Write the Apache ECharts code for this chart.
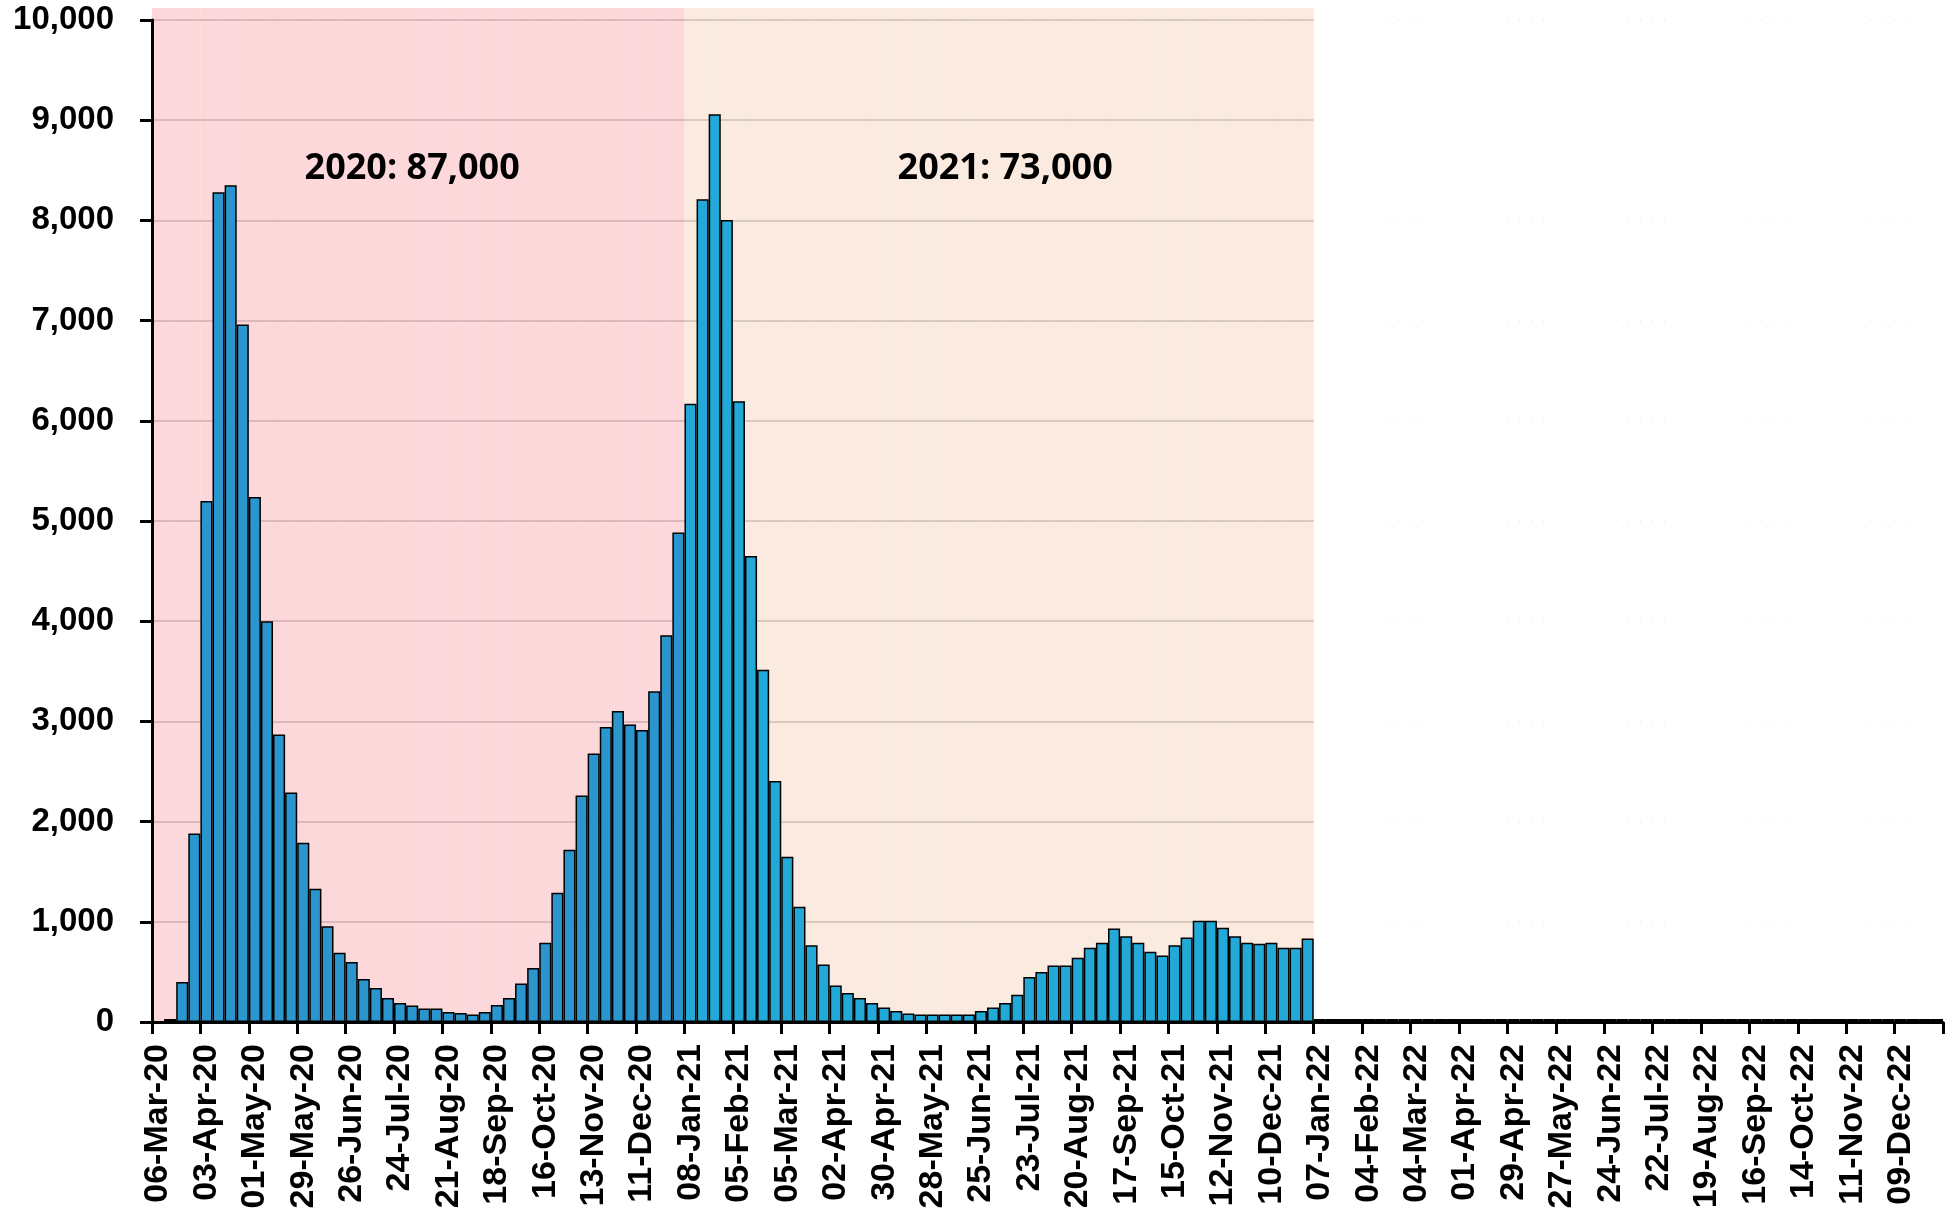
<!DOCTYPE html>
<html><head><meta charset="utf-8">
<script src="https://cdn.jsdelivr.net/npm/echarts@6/dist/echarts.min.js"></script>
<style>html,body{margin:0;padding:0;background:#fff}#c{width:1954px;height:1214px}</style>
</head><body><div id="c"></div>
<script>
const weeks2020 = ['06-Mar-20','13-Mar-20','20-Mar-20','27-Mar-20','03-Apr-20','10-Apr-20','17-Apr-20','24-Apr-20','01-May-20','08-May-20','15-May-20','22-May-20','29-May-20','05-Jun-20','12-Jun-20','19-Jun-20','26-Jun-20','03-Jul-20','10-Jul-20','17-Jul-20','24-Jul-20','31-Jul-20','07-Aug-20','14-Aug-20','21-Aug-20','28-Aug-20','04-Sep-20','11-Sep-20','18-Sep-20','25-Sep-20','02-Oct-20','09-Oct-20','16-Oct-20','23-Oct-20','30-Oct-20','06-Nov-20','13-Nov-20','20-Nov-20','27-Nov-20','04-Dec-20','11-Dec-20','18-Dec-20','25-Dec-20','01-Jan-21'];
const weeks2021 = ['08-Jan-21','15-Jan-21','22-Jan-21','29-Jan-21','05-Feb-21','12-Feb-21','19-Feb-21','26-Feb-21','05-Mar-21','12-Mar-21','19-Mar-21','26-Mar-21','02-Apr-21','09-Apr-21','16-Apr-21','23-Apr-21','30-Apr-21','07-May-21','14-May-21','21-May-21','28-May-21','04-Jun-21','11-Jun-21','18-Jun-21','25-Jun-21','02-Jul-21','09-Jul-21','16-Jul-21','23-Jul-21','30-Jul-21','06-Aug-21','13-Aug-21','20-Aug-21','27-Aug-21','03-Sep-21','10-Sep-21','17-Sep-21','24-Sep-21','01-Oct-21','08-Oct-21','15-Oct-21','22-Oct-21','29-Oct-21','05-Nov-21','12-Nov-21','19-Nov-21','26-Nov-21','03-Dec-21','10-Dec-21','17-Dec-21','24-Dec-21','31-Dec-21'];
const weeks2022 = ['07-Jan-22','14-Jan-22','21-Jan-22','28-Jan-22','04-Feb-22','11-Feb-22','18-Feb-22','25-Feb-22','04-Mar-22','11-Mar-22','18-Mar-22','25-Mar-22','01-Apr-22','08-Apr-22','15-Apr-22','22-Apr-22','29-Apr-22','06-May-22','13-May-22','20-May-22','27-May-22','03-Jun-22','10-Jun-22','17-Jun-22','24-Jun-22','01-Jul-22','08-Jul-22','15-Jul-22','22-Jul-22','29-Jul-22','05-Aug-22','12-Aug-22','19-Aug-22','26-Aug-22','02-Sep-22','09-Sep-22','16-Sep-22','23-Sep-22','30-Sep-22','07-Oct-22','14-Oct-22','21-Oct-22','28-Oct-22','04-Nov-22','11-Nov-22','18-Nov-22','25-Nov-22','02-Dec-22','09-Dec-22','16-Dec-22','23-Dec-22','30-Dec-22'];

const values2020 = [0,30,400,1880,5200,8280,8350,6960,5240,4000,2870,2290,1790,1330,955,690,600,430,340,240,190,165,135,135,100,90,75,100,170,240,385,540,790,1290,1720,2260,2680,2945,3105,2970,2915,3300,3860,4885];
const values2021 = [6170,8210,9060,8005,6195,4650,3515,2405,1650,1150,765,575,365,290,240,190,145,110,85,75,75,75,75,75,110,145,190,272,450,500,563,563,640,740,790,933,857,790,700,663,767,843,1010,1010,940,857,790,780,790,740,740,833];
const values2022 = [30,30,30,30,30,30,30,30,30,30,30,30,30,30,30,30,30,30,30,30,30,30,30,30,30,30,30,30,30,30,30,30,30,30,30,30,30,30,30,30,30,30,30,30,30,30,30,30,30,30,30,30];

const annotationTexts = ['2020: 87,000', '2021: 73,000'];
const annotationWeeks = ['31-Jul-20', '09-Jul-21'];
const annotationLevel = 8520;

const categories = weeks2020.concat(weeks2021, weeks2022);
const values = values2020.concat(values2021, values2022);
const n2020 = weeks2020.length, n2021 = weeks2021.length;
const regionOf = i => i < n2020 ? 0 : (i < n2020 + n2021 ? 1 : 2);
const bgColors = ['rgba(251,177,183,0.5)', 'rgba(247,213,191,0.5)', '#ffffff'];
const barColors = ['#2B95CD', '#22A9D8', '#22A9D8'];

const chart = echarts.init(document.getElementById('c'), null, {renderer: 'canvas'});
const font = 'Liberation Sans, Arial, sans-serif';
chart.setOption({
  animation: false,
  backgroundColor: '#ffffff',
  grid: {left: 152, right: 11, top: 20, bottom: 192, containLabel: false},
  xAxis: {
    type: 'category', data: categories, boundaryGap: true, z: 5,
    axisLine: {show: true, lineStyle: {color: '#000', width: 3}},
    axisTick: {show: true, interval: 3, length: 12, lineStyle: {color: '#000', width: 3}},
    axisLabel: {interval: 3, rotate: 90, margin: 22, color: '#000', fontFamily: font, fontWeight: 'bold', fontSize: 34},
    splitLine: {show: false}
  },
  yAxis: [{
    type: 'value', min: 0, max: 10000, interval: 1000,
    axisLine: {show: false}, axisTick: {show: false}, axisLabel: {show: false},
    splitLine: {show: true, lineStyle: {color: '#A8A8A8', width: 1.5}}
  }, {
    type: 'value', min: 0, max: 10000, interval: 1000, position: 'left', z: 5,
    axisLine: {show: true, lineStyle: {color: '#000', width: 3}},
    axisTick: {show: true, length: 12, lineStyle: {color: '#000', width: 3}},
    axisLabel: {margin: 38, color: '#000', fontFamily: font, fontWeight: 'bold', fontSize: 33,
      formatter: v => v.toLocaleString('en-US')},
    splitLine: {show: false}
  }],
  series: [{
    type: 'bar', name: 'bg', yAxisIndex: 0, z: 1, clip: false, silent: true,
    barGap: '-100%', barCategoryGap: '0%',
    data: categories.map((c, i) => ({value: 10120, itemStyle: {color: bgColors[regionOf(i)], borderWidth: 0}}))
  }, {
    type: 'bar', name: 'Weekly deaths', yAxisIndex: 0, z: 2,
    barGap: '-100%', barCategoryGap: '0%',
    data: values.map((v, i) => ({value: v, itemStyle: {color: barColors[regionOf(i)], borderColor: '#000', borderWidth: 1.5}})),
    markPoint: {
      symbol: 'rect', symbolSize: 1, itemStyle: {color: 'rgba(0,0,0,0)'},
      label: {show: true, position: 'inside', color: '#000', fontFamily: 'Open Sans, Liberation Sans, sans-serif', fontWeight: 'bold', fontSize: 36,
        formatter: p => p.name},
      data: annotationTexts.map((t, k) => ({name: t, coord: [annotationWeeks[k], annotationLevel]}))
    }
  }]
});
</script></body></html>
